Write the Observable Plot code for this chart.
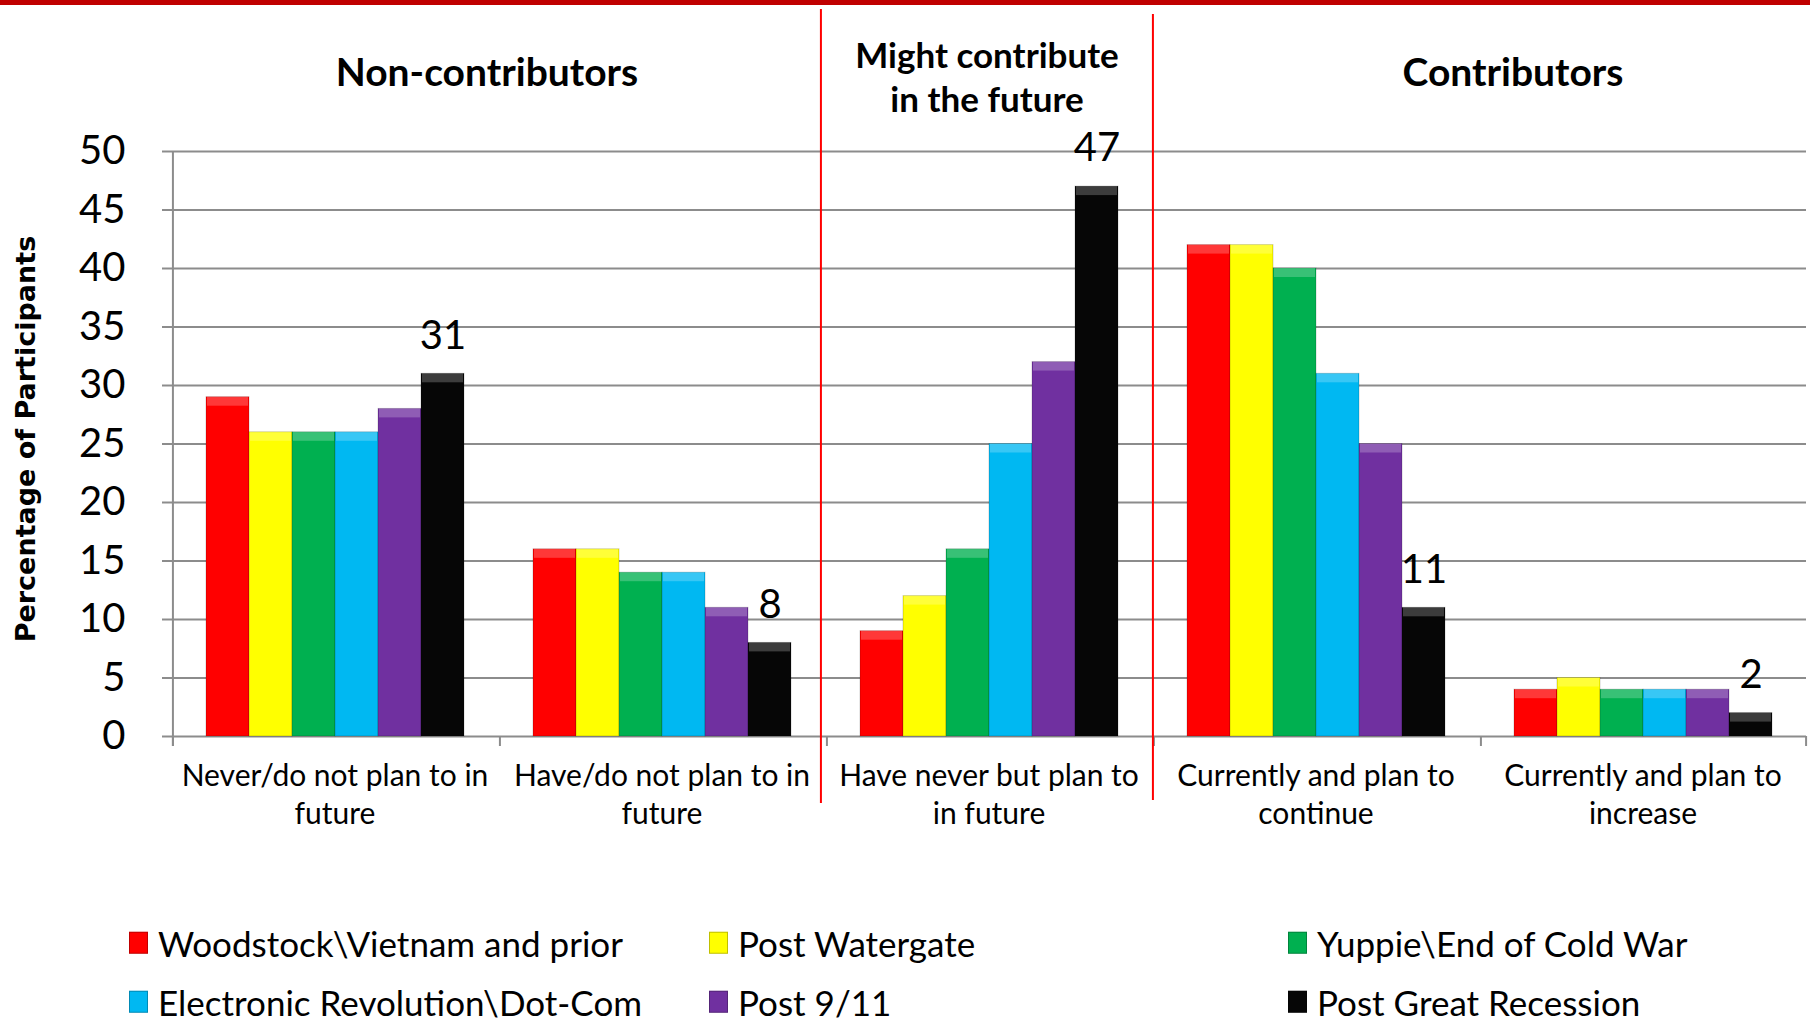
<!DOCTYPE html>
<html>
<head>
<meta charset="utf-8">
<script src="https://cdn.jsdelivr.net/npm/d3@7"></script>
<script src="https://cdn.jsdelivr.net/npm/@observablehq/plot@0.6"></script>
<style>
  html, body { margin: 0; padding: 0; background: #fff; }
  body { width: 1810px; height: 1024px; overflow: hidden; position: relative; font-family: Lato, "Open Sans", sans-serif; color: #000; }
  #chart { position: absolute; left: 0; top: 0; }
  #topbar { position: absolute; left: 0; top: 0; width: 1810px; height: 5px; background: #C00000; }
  .hdr { position: absolute; font-weight: bold; text-align: center; white-space: pre; transform: translate(-50%, -50%); }
  #ylab { position: absolute; left: 25px; top: 439px; transform: translate(-50%, -50%) rotate(-90deg); font-family: "DejaVu Sans", sans-serif; font-weight: bold; font-size: 27px; white-space: nowrap; }
  .leg { position: absolute; display: flex; align-items: center; font-size: 35px; line-height: 1.1; white-space: nowrap; transform: translateY(-50%); }
  .sw { width: 19px; height: 22px; margin-right: 10px; box-sizing: border-box; border: 1px solid rgba(0,0,0,0.25); }
</style>
</head>
<body>
<div id="chart"></div>
<div id="topbar"></div>
<div id="ylab">Percentage of Participants</div>
<div id="headers"></div>
<div id="legend"></div>
<script>
// ---- data ----
const categories = [
  "Never/do not plan to in future",
  "Have/do not plan to in future",
  "Have never but plan to in future",
  "Currently and plan to continue",
  "Currently and plan to increase"
];
const categoryLabels = [
  "Never/do not plan to in\nfuture",
  "Have/do not plan to in\nfuture",
  "Have never but plan to\nin future",
  "Currently and plan to\ncontinue",
  "Currently and plan to\nincrease"
];
const series = [
  "Woodstock\\Vietnam and prior",
  "Post Watergate",
  "Yuppie\\End of Cold War",
  "Electronic Revolution\\Dot-Com",
  "Post 9/11",
  "Post Great Recession"
];
const colors = ["#FF0000", "#FFFF00", "#00B050", "#00B8F2", "#7030A0", "#060606"];
const woodstock      = [29, 16,  9, 42, 4];
const postWatergate  = [26, 16, 12, 42, 5];
const yuppie         = [26, 14, 16, 40, 4];
const dotCom         = [26, 14, 25, 31, 4];
const post911        = [28, 11, 32, 25, 4];
const greatRecession = [31,  8, 47, 11, 2];
const yTicks = [0, 5, 10, 15, 20, 25, 30, 35, 40, 45, 50];
const groupHeaders = ["Non-contributors", "Might contribute\nin the future", "Contributors"];

const seriesValues = [woodstock, postWatergate, yuppie, dotCom, post911, greatRecession];
const rows = [];
categories.forEach((c, i) => series.forEach((s, j) => rows.push({category: c, series: s, value: seriesValues[j][i]})));
const labelled = rows.filter(d => d.series === series[series.length - 1]);

// ---- layout ----
const W = 1810, H = 860, mL = 171, mR = 4, mT = 151, mB = 124;
const padOuter = 0.77;
const facetW = (W - mL - mR) / categories.length;
const step = facetW / (series.length + 2 * padOuter);
const edge = -(step / 2 + padOuter * step); // first bar centre -> facet left edge
const grey = "#8c8c8c";

const chart = Plot.plot({
  width: W, height: H,
  marginLeft: mL, marginRight: mR, marginTop: mT, marginBottom: mB,
  style: {fontFamily: "Lato, 'Open Sans', sans-serif", color: "#000", background: "transparent"},
  fx: {domain: categories, padding: 0, axis: null},
  x: {domain: series, paddingInner: 0, paddingOuter: padOuter, axis: null},
  y: {domain: [0, 50], axis: null},
  color: {domain: series, range: colors},
  marks: [
    Plot.gridY(yTicks, {stroke: grey, strokeOpacity: 1, strokeWidth: 2}),
    Plot.barY(rows, {fx: "category", x: "series", y: "value", fill: "series", stroke: "rgba(0,0,0,0.18)", strokeWidth: 1}),
    Plot.barY(rows, {fx: "category", x: "series", y1: "value", y2: "value", insetBottom: -9, insetLeft: 1, insetRight: 1, fill: "white", fillOpacity: 0.22}),
    Plot.text(labelled, {fx: "category", x: "series", y: "value", text: d => String(d.value), dy: -38, fontSize: 40, lineAnchor: "middle", fill: "#000"}),
    Plot.axisY({ticks: yTicks, tickSize: 9, tickPadding: 37, fontSize: 40, stroke: grey, strokeWidth: 2, label: null, tickFormat: d => String(d)}),
    // y axis line
    Plot.ruleX([categories[0]], {fx: d => d, x: () => series[0], y1: () => 50, y2: () => 0, dx: edge, insetBottom: -10, stroke: grey, strokeWidth: 2}),
    // category boundary ticks
    Plot.ruleX(categories, {fx: d => d, x: () => series[0], y1: () => 0, y2: () => 0, dx: edge, insetBottom: -10, stroke: grey, strokeWidth: 2}),
    Plot.ruleX([categories[categories.length - 1]], {fx: d => d, x: () => series[series.length - 1], y1: () => 0, y2: () => 0, dx: -edge, insetBottom: -10, stroke: grey, strokeWidth: 2}),
    // red group separators
    Plot.ruleX([categories[2]], {fx: d => d, x: () => series[0], dx: edge - 6, insetTop: -142, insetBottom: -67, stroke: "#FF0000", strokeWidth: 2}),
    Plot.ruleX([categories[3]], {fx: d => d, x: () => series[0], dx: edge - 1, insetTop: -137, insetBottom: -64, stroke: "#FF0000", strokeWidth: 2}),
    Plot.axisFx({anchor: "bottom", tickSize: 0, tickPadding: 22, fontSize: 30, lineHeight: 1.27, label: null,
      tickFormat: d => categoryLabels[categories.indexOf(d)]})
  ]
});
document.getElementById("chart").appendChild(chart);

// ---- group headers ----
const hdrPos = [[487, 71, 39, 44], [987, 76, 35, 44], [1513, 71, 39, 44]];
const hdrBox = document.getElementById("headers");
groupHeaders.forEach((t, i) => {
  const d = document.createElement("div");
  d.className = "hdr";
  d.textContent = t;
  d.style.left = hdrPos[i][0] + "px";
  d.style.top = hdrPos[i][1] + "px";
  d.style.fontSize = hdrPos[i][2] + "px";
  d.style.lineHeight = hdrPos[i][3] + "px";
  hdrBox.appendChild(d);
});

// ---- legend ----
const legCols = [129, 709, 1288], legRows = [943, 1002];
const legBox = document.getElementById("legend");
series.forEach((s, i) => {
  const item = document.createElement("div");
  item.className = "leg";
  item.style.left = legCols[i % 3] + "px";
  item.style.top = legRows[Math.floor(i / 3)] + "px";
  const sw = document.createElement("span");
  sw.className = "sw";
  sw.style.background = colors[i];
  const tx = document.createElement("span");
  tx.textContent = s;
  item.appendChild(sw);
  item.appendChild(tx);
  legBox.appendChild(item);
});
</script>
</body>
</html>
